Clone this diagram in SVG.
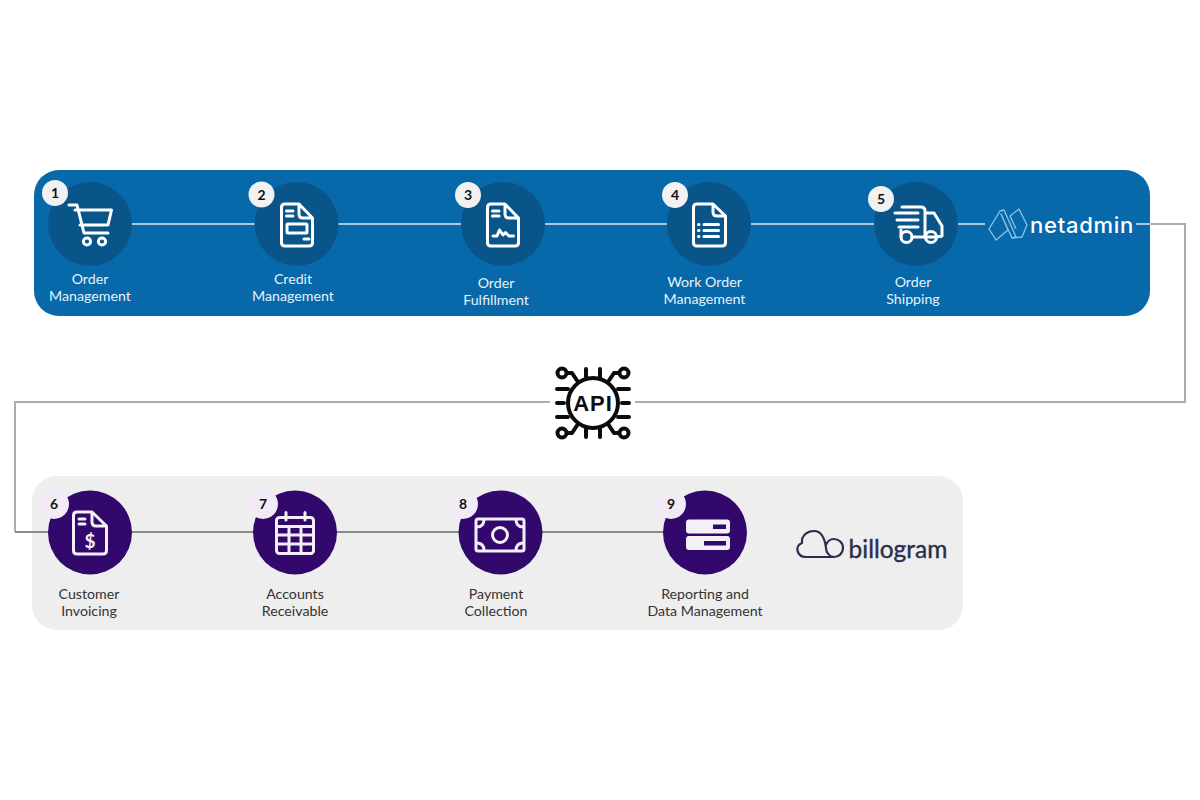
<svg xmlns="http://www.w3.org/2000/svg" width="1200" height="800" viewBox="0 0 1200 800">
<style>
text{font-family:Lato,"Liberation Sans",sans-serif;text-anchor:middle}
.lb{font-size:14.2px;fill:#e6f2fa}
.ld{font-size:14.2px;fill:#333}
.bn{font-size:14px;font-weight:700;fill:#111}
.cb{fill:#09558a}
.cp{fill:#33086d}
.bw{fill:#f1f1f1}
.bp{fill:#f2ebf6}
.i{fill:none;stroke:#fff;stroke-width:3;stroke-linecap:round;stroke-linejoin:round}
.ip{fill:none;stroke:#f3eff8;stroke-width:3;stroke-linecap:round;stroke-linejoin:round}
.con{fill:none;stroke-width:2}
.a{fill:none;stroke:#0c0c0c;stroke-width:4;stroke-linecap:round;stroke-linejoin:round}
</style>
<rect width="1200" height="800" fill="#fff"/>
<rect id="panel-netadmin" x="34" y="170" width="1116" height="146" rx="25" fill="#0769aa"/>
<rect id="panel-billogram" x="32" y="476" width="931" height="154" rx="25" fill="#eeeeef"/>
<g id="connectors">
<path class="con" stroke="#a9c6dc" d="M130 224H985"/>
<path class="con" stroke="#a9c6dc" d="M1136 224H1150"/>
<path class="con" stroke="#adadad" d="M1150 224H1185V402H635"/>
<path class="con" stroke="#adadad" d="M550 402H15V532"/>
<path class="con" stroke="#8a8a8a" d="M15 532H665"/>
</g>
<g id="node-1">
<circle class="cb" cx="90" cy="224" r="42"/>
<circle class="bw" cx="55" cy="193" r="13"/>
<text class="bn" x="55" y="198">1</text>
<path class="i" d="M69 205H77L84 233H108M75 210H111.500L108 225H80"/>
<circle class="i" cx="87" cy="241.500" r="3.600"/><circle class="i" cx="102" cy="241.500" r="3.600"/>
<text class="lb" x="90" y="284">Order</text><text class="lb" x="90" y="301">Management</text>
</g>
<g id="node-2">
<circle class="cb" cx="296.500" cy="224" r="42"/>
<circle class="bw" cx="261.500" cy="194.500" r="13"/>
<text class="bn" x="261.500" y="199.500">2</text>
<path class="i" d="M299 204H285Q281.500 204 281.500 207.500V242.500Q281.500 246 285 246H309Q312.500 246 312.500 242.500V218ZM299 204V214Q299 218 303 218H312.500"/>
<path class="i" d="M286.500 211H293M286.500 216H293M304 239H309"/>
<rect class="i" x="287" y="224" width="20" height="9" rx="1"/>
<text class="lb" x="293" y="284">Credit</text><text class="lb" x="293" y="301">Management</text>
</g>
<g id="node-3">
<circle class="cb" cx="503" cy="224" r="42"/>
<circle class="bw" cx="468" cy="195" r="13"/>
<text class="bn" x="468" y="200">3</text>
<path class="i" d="M505 204H491Q487.500 204 487.500 207.500V242.500Q487.500 246 491 246H515Q518.500 246 518.500 242.500V218ZM505 204V214Q505 218 509 218H518.500"/>
<path class="i" d="M492.500 211H499M492.500 216H499M493 236H497L499.500 230L503 235L505.500 232.500L509 236H513.500"/>
<text class="lb" x="496" y="288">Order</text><text class="lb" x="496" y="305">Fulfillment</text>
</g>
<g id="node-4">
<circle class="cb" cx="709" cy="224" r="42"/>
<circle class="bw" cx="675" cy="195" r="13"/>
<text class="bn" x="675" y="200">4</text>
<path class="i" d="M713 204H697Q693.500 204 693.500 207.500V242.500Q693.500 246 697 246H722Q725.500 246 725.500 242.500V216ZM713 204V212Q713 216 717 216H725.500"/>
<path class="i" d="M698.500 224.500H699M698.500 230.500H699M698.500 236.500H699M704 224.500H718.500M704 230.500H718.500M704 236.500H718.500"/>
<text class="lb" x="704.500" y="287">Work Order</text><text class="lb" x="704.500" y="304">Management</text>
</g>
<g id="node-5">
<circle class="cb" cx="916" cy="224" r="42"/>
<circle class="bw" cx="881" cy="199" r="13"/>
<text class="bn" x="881" y="204">5</text>
<path class="i" d="M902 207H921Q925 207 925 211V237H936M925 213H934L942 226V236L936.500 237M901 230V236.500"/>
<path class="i" d="M895 213H918M897 220H918M899 227H918M912 237H924"/>
<circle class="i" cx="906.500" cy="237" r="5.500"/><circle class="i" cx="931" cy="237" r="5.500"/>
<text class="lb" x="913" y="287">Order</text><text class="lb" x="913" y="304">Shipping</text>
</g>
<g id="logo-netadmin">
<path fill="none" stroke="#8cc4e6" stroke-width="1.300" stroke-linejoin="round" d="M989 229L1000 211L1004 210L1016 237L1012 238L1001 214L1008 230L996 240ZM1012 238L1022 237L1027 225L1019 209L1010 216L1016 229"/>
<text x="1082" y="233" style="font-family:Inter,sans-serif;font-size:22px;font-weight:500;letter-spacing:.7px;fill:#fff">netadmin</text>
</g>
<g id="node-api">
<circle class="a" cx="593" cy="403" r="25"/>
<text x="593" y="411" style="font-family:'Liberation Sans',sans-serif;font-size:22px;font-weight:700;letter-spacing:1px;fill:#0c0c0c">API</text>
<path class="a" d="M557 389H568M557 403H564M557 417H568M618 389H629M622 403H629M618 417H629"/>
<path class="a" d="M586 377V369M600 377V369M586 429V437M600 429V437"/>
<path class="a" d="M567 373H572L578 382M619 373H614L608 382M567 433H572L578 424M619 433H614L608 424"/>
<circle class="a" cx="562" cy="373" r="4.500"/><circle class="a" cx="624" cy="373" r="4.500"/><circle class="a" cx="562" cy="433" r="4.500"/><circle class="a" cx="624" cy="433" r="4.500"/>
</g>
<g id="node-6">
<circle class="cp" cx="90" cy="532.500" r="42"/>
<circle class="bp" cx="54" cy="504" r="15"/>
<text class="bn" x="54" y="509">6</text>
<path class="ip" d="M92 512H77Q73.500 512 73.500 515.500V550.500Q73.500 554 77 554H103Q106.500 554 106.500 550.500V526ZM92 512V522Q92 526 96 526H106.500"/>
<path class="ip" d="M79 519H85M79 524H85"/>
<text x="90" y="548" style="font-size:19px;font-weight:700;fill:#f3eff8">$</text>
<text class="ld" x="89" y="599">Customer</text><text class="ld" x="89" y="616">Invoicing</text>
</g>
<g id="node-7">
<circle class="cp" cx="295" cy="532.500" r="42"/>
<circle class="bp" cx="263" cy="504" r="15"/>
<text class="bn" x="263" y="509">7</text>
<rect class="ip" x="276.500" y="517.500" width="37" height="36" rx="3"/>
<path class="ip" d="M286 512.500V520M305 512.500V520M276.500 526.500H313.500M276.500 535H313.500M276.500 544H313.500M289 526.500V553.500M301 526.500V553.500"/>
<text class="ld" x="295" y="599">Accounts</text><text class="ld" x="295" y="616">Receivable</text>
</g>
<g id="node-8">
<circle class="cp" cx="500.500" cy="532.500" r="42"/>
<circle class="bp" cx="463" cy="504" r="15"/>
<text class="bn" x="463" y="509">8</text>
<rect class="ip" x="476" y="519" width="48" height="32" rx="2"/>
<circle class="ip" cx="500" cy="535" r="7.500"/>
<path class="ip" d="M476.500 527Q484 527 484 519.500M523.500 527Q516 527 516 519.500M476.500 543Q484 543 484 550.500M523.500 543Q516 543 516 550.500"/>
<text class="ld" x="496" y="599">Payment</text><text class="ld" x="496" y="616">Collection</text>
</g>
<g id="node-9">
<circle class="cp" cx="705" cy="532.500" r="42"/>
<circle class="bp" cx="671" cy="504" r="15"/>
<text class="bn" x="671" y="509">9</text>
<rect x="686" y="519.500" width="44" height="14" rx="3" fill="#f3f1f8"/>
<rect x="686" y="536" width="44" height="14" rx="3" fill="#f3f1f8"/>
<rect x="713" y="524.500" width="13" height="4.500" fill="#33086d"/>
<rect x="704" y="541" width="22" height="4.500" fill="#33086d"/>
<text class="ld" x="705" y="599">Reporting and</text><text class="ld" x="705" y="616">Data Management</text>
</g>
<g id="logo-billogram">
<path fill="none" stroke="#2a2e4c" stroke-width="2.200" stroke-linecap="round" stroke-linejoin="round" d="M806 557C797 557 794 546 802 543C801 535 808 531 814 531C822 531 825 540 826 548C826 553 830 557 834 557C839 557 843 553 843 548C843 542 838 539 834 539C830 539 827 542 826 545M806 557H834"/>
<text x="898" y="558" style="font-family:Lato,sans-serif;font-size:24.500px;stroke:#2a2e4c;stroke-width:.4px;fill:#2a2e4c">billogram</text>
</g>
</svg>
